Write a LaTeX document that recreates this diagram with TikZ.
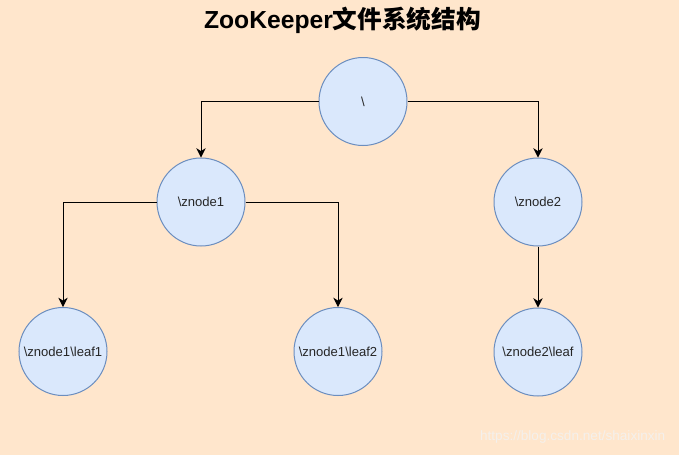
\documentclass[tikz,border=0pt]{standalone}
\usepackage{fontspec}
\setmainfont{Liberation Sans}
\newfontfamily\cjk{Noto Sans CJK SC}
\usetikzlibrary{arrows.meta}
\definecolor{cbg}{HTML}{ffe6cc}
\definecolor{cnode}{HTML}{dae8fc}
\definecolor{cborder}{HTML}{6c8ebf}
\definecolor{cwmark}{HTML}{f4f0ec}
\tikzset{
	every picture/.style={font=\fontsize{9.8}{9.8}\selectfont,},
	lw/.style={line width=0.75pt,},
	%%%
	znode/.style={circle, draw=cborder, fill=cnode, lw, minimum size=66pt, inner sep=0pt, text=black!85},
	link/.style={lw, black, -{Stealth[length=7pt, width=7pt, inset=2.2pt]}},
	title/.style={font=\fontsize{18.5}{18.5}\selectfont\bfseries},
	wmark/.style={font=\fontsize{10.2}{10.2}\selectfont, text=cwmark},
}

\begin{document}
\begin{tikzpicture}[x=0.75pt, y=-0.75pt]

	%%% Background

	\fill[cbg] (0,0) rectangle (679,455);
	\useasboundingbox (0,0) rectangle (679,455);

	\node[title] (ttl) at (342.5,20) {ZooKeeper{\cjk 文件系统结构}};

	%%% Tree

	\node[znode] (root) at (363,101.5) {\textbackslash};
	\node[znode] (zn1) at (201,202) {\textbackslash znode1};
	\node[znode] (zn2) at (538,202) {\textbackslash znode2};

	\node[znode] (lf1) at (63,351.5) {\textbackslash znode1\textbackslash leaf1};
	\node[znode] (lf2) at (338,351.5) {\textbackslash znode1\textbackslash leaf2};
	\node[znode] (lf3) at (538,352) {\textbackslash znode2\textbackslash leaf};

	%%% Links

	\draw[link] (root.west) -| (zn1.north);
	\draw[link] (root.east) -| (zn2.north);
	\draw[link] (zn1.west) -| (lf1.north);
	\draw[link] (zn1.east) -| (lf2.north);
	\draw[link] (zn2.south) -- (lf3.north);

	\node[wmark, anchor=east] (src) at (670,437) {https://blog.csdn.net/shaixinxin};

\end{tikzpicture}
\end{document}
